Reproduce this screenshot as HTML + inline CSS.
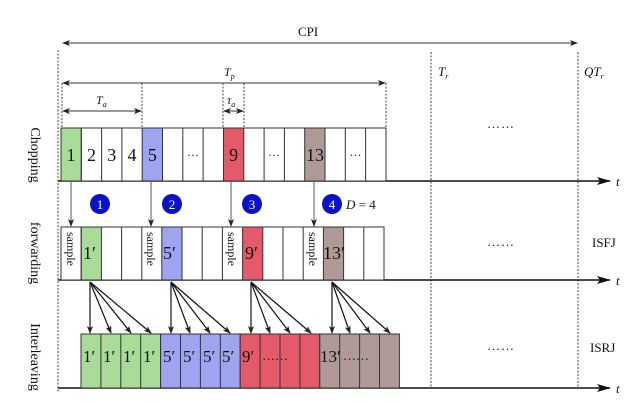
<!DOCTYPE html>
<html><head><meta charset="utf-8"><style>
body{margin:0;background:#fff}
svg{display:block}
text{font-family:"Liberation Serif","DejaVu Serif",serif;fill:#111}
text.w{fill:#fff}
</style></head><body>
<svg width="639" height="402" viewBox="0 0 639 402" xmlns="http://www.w3.org/2000/svg">
<defs>
<marker id="a" markerWidth="8" markerHeight="6" refX="7" refY="3" orient="auto-start-reverse" markerUnits="userSpaceOnUse"><path d="M0,0 L8,3 L0,6 L2,3z" fill="#222"/></marker>
<marker id="b" markerWidth="14" markerHeight="8" refX="13" refY="4" orient="auto" markerUnits="userSpaceOnUse"><path d="M0,0 L14,4 L0,8 L3,4z" fill="#111"/></marker>
</defs>
<g stroke="#444" stroke-dasharray="2,1.5" stroke-width="1">
<line x1="58" y1="50" x2="58" y2="392"/>
<line x1="431" y1="52" x2="431" y2="388"/>
<line x1="578" y1="52" x2="578" y2="388"/>
<line x1="62" y1="83" x2="62" y2="128"/>
<line x1="142" y1="83" x2="142" y2="128"/>
<line x1="223" y1="83" x2="223" y2="128"/>
<line x1="244" y1="83" x2="244" y2="128"/>
<line x1="386" y1="83" x2="386" y2="128"/>
</g>
<g stroke="#333" stroke-width="1">
<line x1="63" y1="43" x2="577" y2="43" marker-start="url(#a)" marker-end="url(#a)"/>
<line x1="63" y1="83" x2="385" y2="83" marker-start="url(#a)" marker-end="url(#a)"/>
<line x1="63" y1="111" x2="141" y2="111" marker-start="url(#a)" marker-end="url(#a)"/>
<line x1="224" y1="111" x2="243" y2="111" marker-start="url(#a)" marker-end="url(#a)"/>
</g>
<text x="298" y="36" font-size="13">CPI</text>
<text x="224" y="76" font-size="12" font-style="italic">T<tspan font-size="8" dy="3">p</tspan></text>
<text x="96" y="104" font-size="12" font-style="italic">T<tspan font-size="8" dy="3">a</tspan></text>
<text x="227" y="104" font-size="12" font-style="italic">τ<tspan font-size="8" dy="3">a</tspan></text>
<text x="438" y="76" font-size="13" font-style="italic">T<tspan font-size="8" dy="3">r</tspan></text>
<text x="584" y="76" font-size="13" font-style="italic">QT<tspan font-size="8" dy="3">r</tspan></text>
<g stroke="#111" stroke-width="1.5">
<line x1="58" y1="181" x2="610" y2="181" marker-end="url(#b)"/>
<line x1="58" y1="280" x2="610" y2="280" marker-end="url(#b)"/>
<line x1="58" y1="388" x2="610" y2="388" marker-end="url(#b)"/>
</g>
<g font-size="13" font-style="italic"><text x="616" y="186">t</text><text x="616" y="285">t</text><text x="616" y="393">t</text></g>
<g font-size="13" letter-spacing="1"><text x="487" y="128">……</text><text x="487" y="246">……</text><text x="487" y="350">……</text></g>
<text x="592" y="247" font-size="13">ISFJ</text>
<text x="590" y="352" font-size="13">ISRJ</text>
<g font-size="14">
<text transform="translate(31,155) rotate(90)" text-anchor="middle">Chopping</text>
<text transform="translate(31,253) rotate(90)" text-anchor="middle">forwarding</text>
<text transform="translate(31,357) rotate(90)" text-anchor="middle">Interleaving</text>
</g>
<g stroke="#333" stroke-width="1">
<rect x="61" y="128" width="325" height="53" fill="#fff"/>
<rect x="61" y="128" width="20.3" height="53" fill="#a8dc98"/>
<rect x="142.2" y="128" width="20.3" height="53" fill="#9ea4f0"/>
<rect x="223.5" y="128" width="20.3" height="53" fill="#e45a6b"/>
<rect x="304.7" y="128" width="20.3" height="53" fill="#b09a98"/>
<path d="M81.3,128V181M101.6,128V181M121.9,128V181M162.5,128V181M182.8,128V181M203.1,128V181M264.1,128V181M284.4,128V181M345.3,128V181M365.6,128V181"/>
</g>
<g font-size="18" text-anchor="middle">
<text x="71" y="161">1</text><text x="91.5" y="161">2</text><text x="111.8" y="161">3</text><text x="132" y="161">4</text><text x="152.4" y="161">5</text>
<text x="193" y="159" font-size="12">···</text><text x="233.6" y="161">9</text><text x="274" y="159" font-size="12">···</text>
<text x="315" y="161">13</text><text x="355.5" y="159" font-size="12">···</text>
</g>
<g stroke="#555" stroke-width="1">
<line x1="71" y1="181" x2="71" y2="226" marker-end="url(#a)"/>
<line x1="151" y1="181" x2="151" y2="226" marker-end="url(#a)"/>
<line x1="231" y1="181" x2="231" y2="226" marker-end="url(#a)"/>
<line x1="314" y1="181" x2="314" y2="226" marker-end="url(#a)"/>
</g>
<g fill="#0b12c8"><circle cx="100" cy="204" r="10"/><circle cx="172" cy="204" r="10"/><circle cx="252" cy="204" r="10"/><circle cx="332" cy="204" r="10"/></g>
<g font-size="13" text-anchor="middle"><text class="w" x="100" y="209">1</text><text class="w" x="172" y="209">2</text><text class="w" x="252" y="209">3</text><text class="w" x="332" y="209">4</text></g>
<text x="346" y="209" font-size="13" font-style="italic">D<tspan font-style="normal"> = 4</tspan></text>
<g stroke="#333" stroke-width="1">
<rect x="61" y="227" width="323" height="53" fill="#fff"/>
<rect x="81.2" y="227" width="20.2" height="53" fill="#a8dc98"/>
<rect x="161.8" y="227" width="20.2" height="53" fill="#9ea4f0"/>
<rect x="242.6" y="227" width="20.2" height="53" fill="#e45a6b"/>
<rect x="323.4" y="227" width="20.2" height="53" fill="#b09a98"/>
<path d="M81.2,227V280M121.6,227V280M141.8,227V280M202.2,227V280M222.4,227V280M283,227V280M303.2,227V280M363.8,227V280"/>
</g>
<g font-size="12">
<text transform="translate(67,232) rotate(90)">sample</text>
<text transform="translate(147,232) rotate(90)">sample</text>
<text transform="translate(228,232) rotate(90)">sample</text>
<text transform="translate(309,232) rotate(90)">sample</text>
</g>
<g font-size="18"><text x="83" y="259">1′</text><text x="163" y="259">5′</text><text x="245" y="259">9′</text><text x="323" y="259">13′</text></g>
<g stroke="#111" stroke-width="1.2">
<line x1="90" y1="282" x2="90" y2="333" marker-end="url(#a)"/><line x1="90" y1="282" x2="111" y2="333" marker-end="url(#a)"/><line x1="90" y1="282" x2="131" y2="333" marker-end="url(#a)"/><line x1="90" y1="282" x2="151" y2="333" marker-end="url(#a)"/>
<line x1="171" y1="282" x2="171" y2="333" marker-end="url(#a)"/><line x1="171" y1="282" x2="190" y2="333" marker-end="url(#a)"/><line x1="171" y1="282" x2="210" y2="333" marker-end="url(#a)"/><line x1="171" y1="282" x2="230" y2="333" marker-end="url(#a)"/>
<line x1="251" y1="282" x2="251" y2="333" marker-end="url(#a)"/><line x1="251" y1="282" x2="270" y2="333" marker-end="url(#a)"/><line x1="251" y1="282" x2="290" y2="333" marker-end="url(#a)"/><line x1="251" y1="282" x2="311" y2="333" marker-end="url(#a)"/>
<line x1="332" y1="282" x2="332" y2="333" marker-end="url(#a)"/><line x1="332" y1="282" x2="350" y2="333" marker-end="url(#a)"/><line x1="332" y1="282" x2="370" y2="333" marker-end="url(#a)"/><line x1="332" y1="282" x2="390" y2="333" marker-end="url(#a)"/>
</g>
<g stroke="#333" stroke-width="1">
<rect x="81" y="334" width="79.6" height="54" fill="#a8dc98"/>
<rect x="160.6" y="334" width="79.6" height="54" fill="#9ea4f0"/>
<rect x="240.2" y="334" width="79.6" height="54" fill="#e45a6b"/>
<rect x="319.8" y="334" width="79.6" height="54" fill="#b09a98"/>
<path d="M100.9,334V388M120.8,334V388M140.7,334V388M180.5,334V388M200.4,334V388M220.3,334V388M260.1,334V388M280,334V388M299.9,334V388M339.7,334V388M359.6,334V388M379.5,334V388"/>
</g>
<g font-size="17"><text x="83" y="362">1′</text><text x="103" y="362">1′</text><text x="123" y="362">1′</text><text x="143" y="362">1′</text>
<text x="163" y="362">5′</text><text x="183" y="362">5′</text><text x="203" y="362">5′</text><text x="222" y="362">5′</text>
<text x="242" y="362">9′</text><text x="262" y="360" font-size="13">……</text>
<text x="320" y="362">13′</text><text x="343" y="360" font-size="13">……</text></g>
</svg>
</body></html>
